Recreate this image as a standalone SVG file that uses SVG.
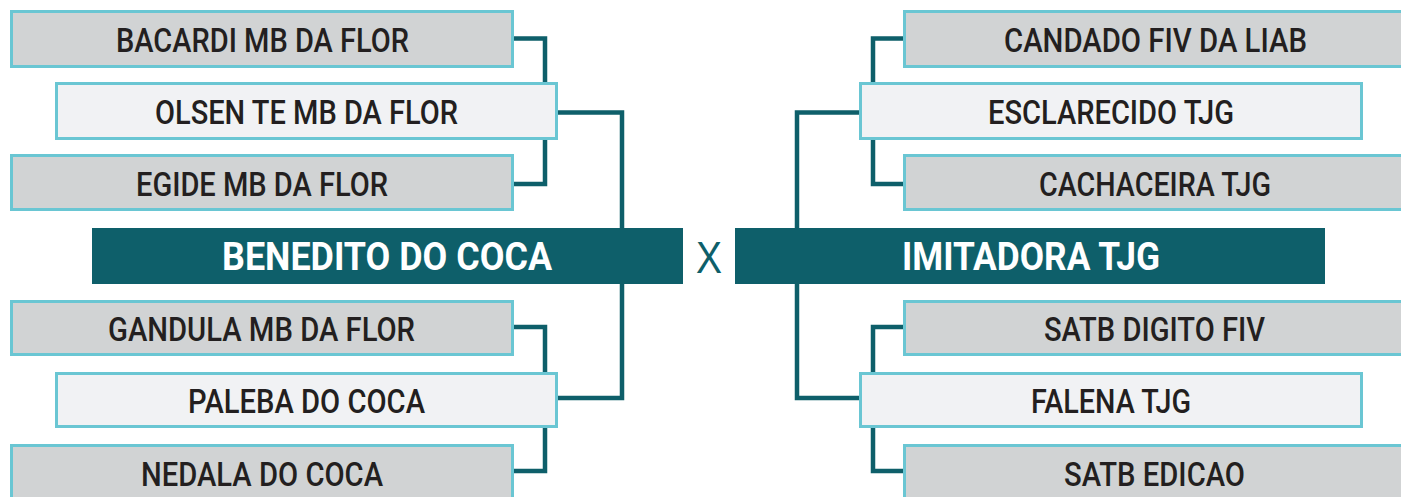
<svg xmlns="http://www.w3.org/2000/svg" width="1401" height="497" viewBox="0 0 1401 497">
<style>
.gray{fill:#d1d3d4;stroke:#6ac6d3;stroke-width:3}
.light{fill:#f1f2f4;stroke:#6ac6d3;stroke-width:3}
.dark{fill:#0e5f6a}
.t{font-family:Roboto,"Liberation Sans",Arial,sans-serif;font-size:33px;font-weight:500;fill:#231f20;text-anchor:middle}
.tb{font-family:Roboto,"Liberation Sans",Arial,sans-serif;font-size:38px;font-weight:bold;fill:#ffffff;text-anchor:middle}
.x{font-family:"Liberation Sans",Arial,sans-serif;font-size:44px;fill:#0e5f6a;text-anchor:middle}
.c{fill:none;stroke:#0e5f6a;stroke-width:4.5;stroke-linejoin:miter;stroke-linecap:butt}
</style>
<rect width="1401" height="497" fill="#ffffff"/>
<g id="connectors">
<path class="c" d="M514,38.5 H545 V84"/>
<path class="c" d="M545,138 V184 H514"/>
<path class="c" d="M558,112.5 H622 V230"/>
<path class="c" d="M622,282 V398 H558"/>
<path class="c" d="M514,327 H545 V374"/>
<path class="c" d="M545,426 V471 H514"/>
<path class="c" d="M903,38.5 H873 V84"/>
<path class="c" d="M873,138 V184 H903"/>
<path class="c" d="M859,112.5 H797 V230"/>
<path class="c" d="M797,282 V398 H859"/>
<path class="c" d="M903,327 H873 V374"/>
<path class="c" d="M873,426 V471 H903"/>
</g>
<g id="bacardi"><rect class="gray" x="11.5" y="11.5" width="501" height="55"/><text class="t" x="262.5" y="52" textLength="293" lengthAdjust="spacingAndGlyphs">BACARDI MB DA FLOR</text></g>
<g id="olsen"><rect class="light" x="56.5" y="83.5" width="500" height="55"/><text class="t" x="306.5" y="124" textLength="303" lengthAdjust="spacingAndGlyphs">OLSEN TE MB DA FLOR</text></g>
<g id="egide"><rect class="gray" x="11.5" y="155.5" width="501" height="54"/><text class="t" x="262" y="196" textLength="252" lengthAdjust="spacingAndGlyphs">EGIDE MB DA FLOR</text></g>
<g id="benedito"><rect class="dark" x="92" y="228" width="591" height="56"/><text class="tb" x="387" y="270" textLength="330" lengthAdjust="spacingAndGlyphs">BENEDITO DO COCA</text></g>
<g id="gandula"><rect class="gray" x="11.5" y="301.5" width="501" height="53"/><text class="t" x="261.5" y="341" textLength="307" lengthAdjust="spacingAndGlyphs">GANDULA MB DA FLOR</text></g>
<g id="paleba"><rect class="light" x="56.5" y="373.5" width="500" height="53"/><text class="t" x="306.5" y="413" textLength="237" lengthAdjust="spacingAndGlyphs">PALEBA DO COCA</text></g>
<g id="nedala"><rect class="gray" x="11.5" y="445.5" width="501" height="60"/><text class="t" x="262" y="486" textLength="242" lengthAdjust="spacingAndGlyphs">NEDALA DO COCA</text></g>
<g id="x-label"><text class="x" x="709" y="273" textLength="26" lengthAdjust="spacingAndGlyphs">X</text></g>
<g id="candado"><rect class="gray" x="904.5" y="11.5" width="503" height="55"/><text class="t" x="1155.5" y="52" textLength="303" lengthAdjust="spacingAndGlyphs">CANDADO FIV DA LIAB</text></g>
<g id="esclarecido"><rect class="light" x="860.5" y="83.5" width="501" height="55"/><text class="t" x="1111" y="124" textLength="246" lengthAdjust="spacingAndGlyphs">ESCLARECIDO TJG</text></g>
<g id="cachaceira"><rect class="gray" x="904.5" y="155.5" width="503" height="54"/><text class="t" x="1155" y="196" textLength="232" lengthAdjust="spacingAndGlyphs">CACHACEIRA TJG</text></g>
<g id="imitadora"><rect class="dark" x="735" y="228" width="590" height="56"/><text class="tb" x="1031" y="270" textLength="258" lengthAdjust="spacingAndGlyphs">IMITADORA TJG</text></g>
<g id="satb-digito"><rect class="gray" x="904.5" y="301.5" width="503" height="53"/><text class="t" x="1154.5" y="341" textLength="221" lengthAdjust="spacingAndGlyphs">SATB DIGITO FIV</text></g>
<g id="falena"><rect class="light" x="860.5" y="373.5" width="501" height="53"/><text class="t" x="1111" y="413" textLength="160" lengthAdjust="spacingAndGlyphs">FALENA TJG</text></g>
<g id="satb-edicao"><rect class="gray" x="904.5" y="445.5" width="503" height="60"/><text class="t" x="1154.5" y="486" textLength="181" lengthAdjust="spacingAndGlyphs">SATB EDICAO</text></g>
</svg>
